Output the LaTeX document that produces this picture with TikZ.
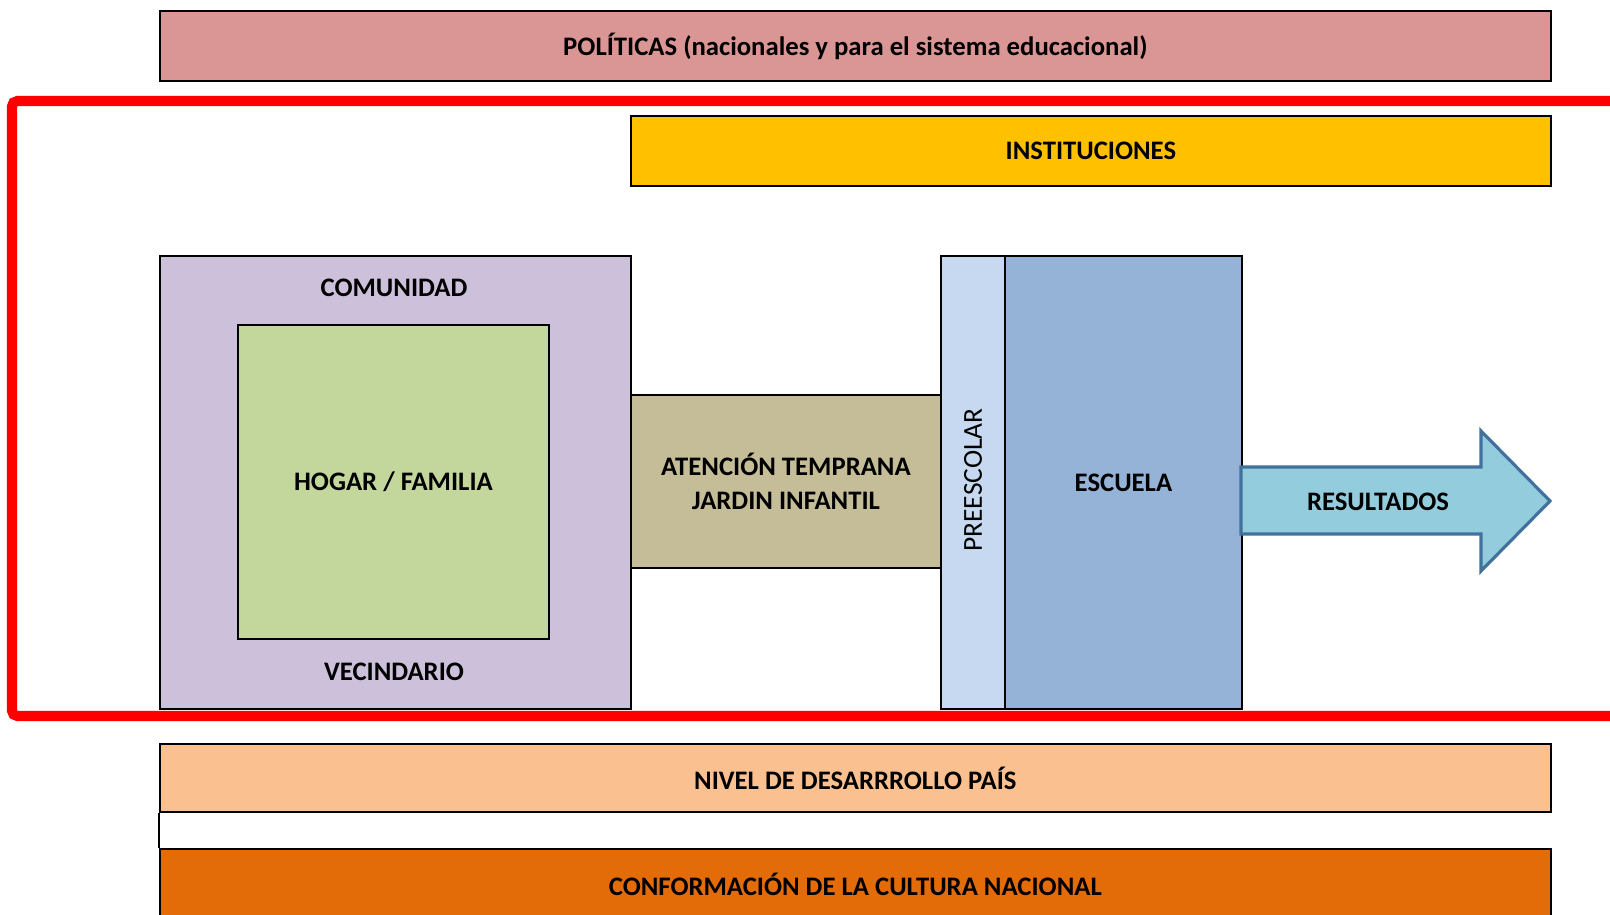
\documentclass[tikz,border=0pt]{standalone}
\usepackage{fontspec}
\setmainfont{Carlito}
\usetikzlibrary{positioning}
\definecolor{cpoliticas}{HTML}{D99694}
\definecolor{cinstituciones}{HTML}{FFC000}
\definecolor{ccomunidad}{HTML}{CCC0DA}
\definecolor{chogar}{HTML}{C3D69B}
\definecolor{catencion}{HTML}{C4BD97}
\definecolor{cpreescolar}{HTML}{C6D9F1}
\definecolor{cescuela}{HTML}{95B3D7}
\definecolor{cresultados}{HTML}{93CDDD}
\definecolor{cflecha}{HTML}{41719C}
\definecolor{cnivel}{HTML}{FAC090}
\definecolor{ccultura}{HTML}{E36C09}
\begin{document}
\begin{tikzpicture}[x=0.02cm,y=-0.02cm,
  font=\fontsize{15.2}{19.8}\selectfont\bfseries,
  box/.style={draw=black,line width=1.1pt,inner sep=0pt,anchor=north west,align=center}]
\clip (0,0) rectangle (1610,915);
\fill[white] (0,0) rectangle (1610,915);
% bandas superiores
\node[box,fill=cpoliticas,minimum width=27.82cm,minimum height=1.4cm] (politicas) at (159,10) {POLÍTICAS (nacionales y para el sistema educacional)};
\node[box,fill=cinstituciones,minimum width=18.4cm,minimum height=1.4cm] (instituciones) at (630,115) {INSTITUCIONES};
% entorno del hogar
\node[box,fill=ccomunidad,minimum width=9.42cm,minimum height=9.06cm] (comunidad) at (159,255) {};
\node[box,fill=chogar,minimum width=6.22cm,minimum height=6.28cm] (hogar) at (237,324) {HOGAR / FAMILIA};
\node (comunidadlbl) at (394,288) {COMUNIDAD};
\node (vecindario) at (394,672) {VECINDARIO};
% trayectoria educativa
\node[box,fill=catencion,minimum width=6.2cm,minimum height=3.46cm] (atencion) at (630,394) {ATENCIÓN TEMPRANA\\JARDIN INFANTIL};
\node[box,fill=cpreescolar,minimum width=1.28cm,minimum height=9.06cm] (preescolar) at (940,255) {};
\node[rotate=90,font=\fontsize{15.6}{19.8}\selectfont\mdseries] (preescolarlbl) at (973,480) {PREESCOLAR};
\node[box,fill=cescuela,minimum width=4.74cm,minimum height=9.06cm] (escuela) at (1004,255) {ESCUELA};
\draw[cflecha,line width=1.8pt,fill=cresultados,line join=miter] (1241,467) -- (1481,467) -- (1481,431) -- (1550,501) -- (1481,571) -- (1481,534) -- (1241,534) -- cycle;
\node (resultados) at (1378,502) {RESULTADOS};
% marco rojo
\draw[red,line width=5.7pt,rounded corners=3pt] (12,101) rectangle (1660,716);
% bandas inferiores
\node[box,fill=cnivel,minimum width=27.82cm,minimum height=1.36cm] (nivel) at (159,743) {NIVEL DE DESARRROLLO PAÍS};
\node[box,fill=ccultura,minimum width=27.82cm,minimum height=1.4cm] (cultura) at (159,848) {CONFORMACIÓN DE LA CULTURA NACIONAL};
\draw[line width=1.1pt] (nivel.south west) -- (cultura.north west);
\end{tikzpicture}
\end{document}
